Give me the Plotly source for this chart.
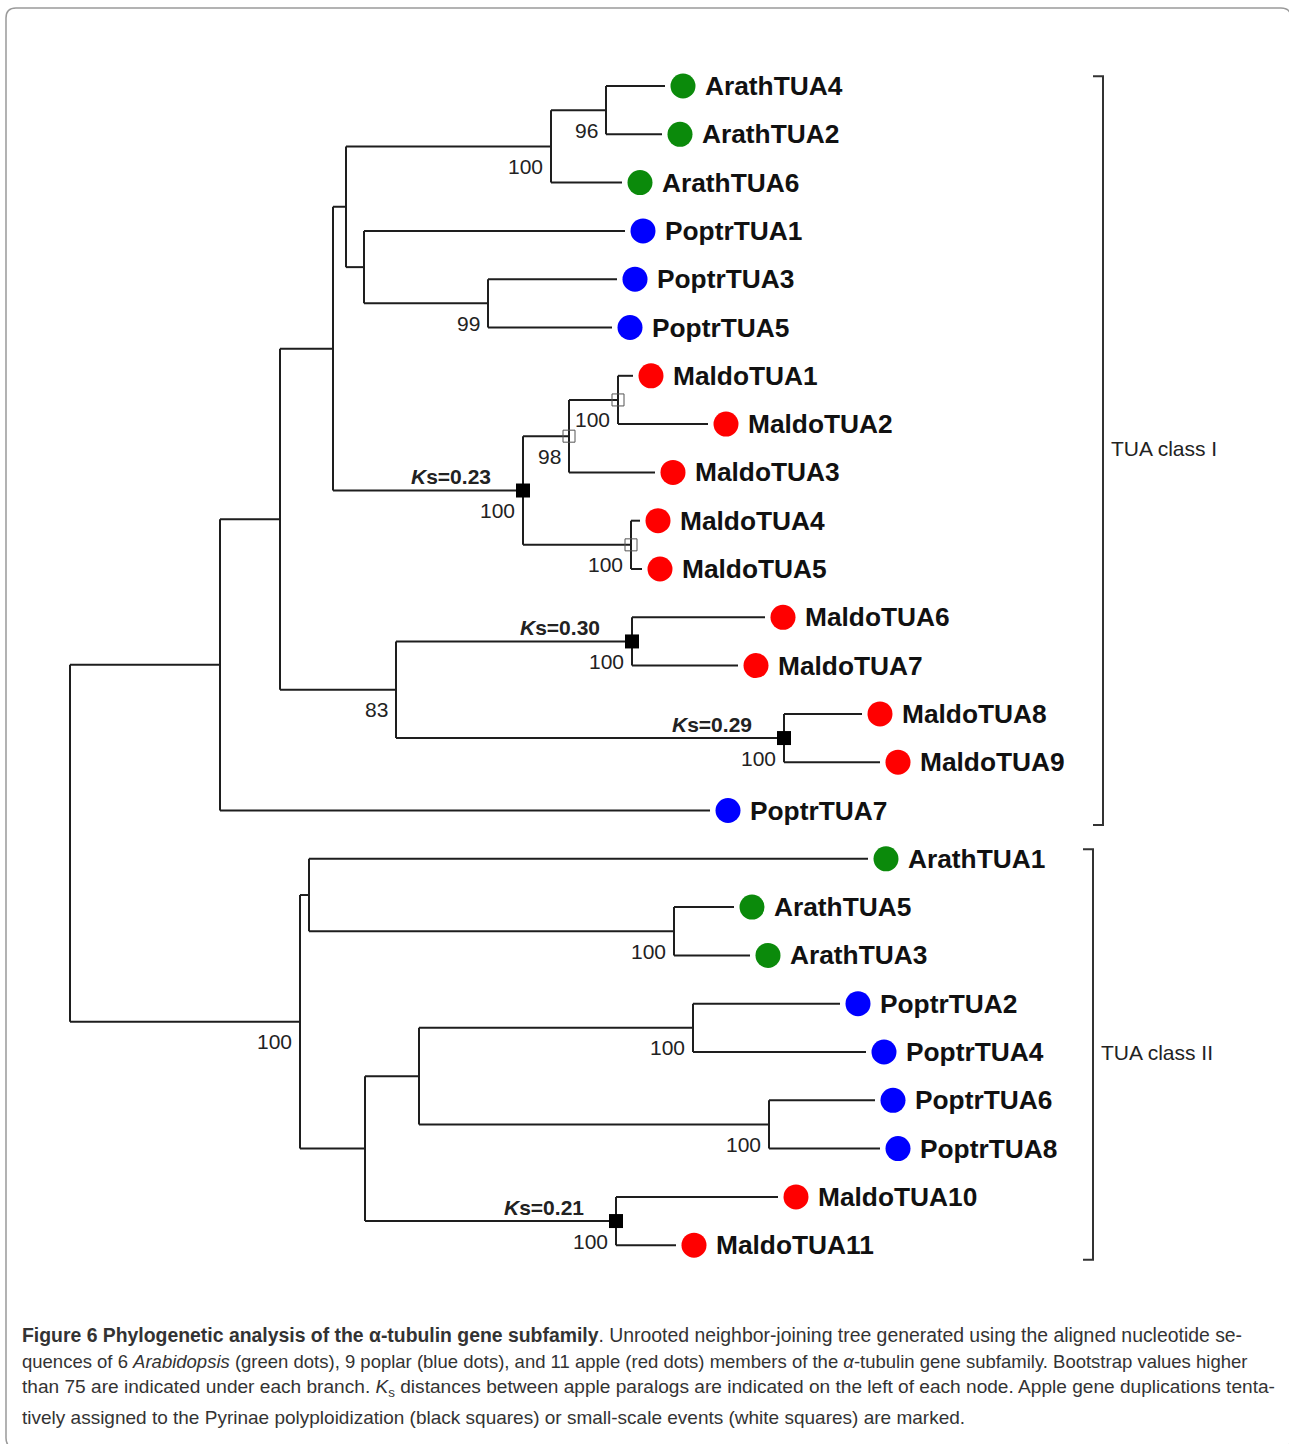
import plotly.graph_objects as go

# ---------------- data ----------------
leaf_names = ["ArathTUA4", "ArathTUA2", "ArathTUA6", "PoptrTUA1", "PoptrTUA3", "PoptrTUA5",
              "MaldoTUA1", "MaldoTUA2", "MaldoTUA3", "MaldoTUA4", "MaldoTUA5", "MaldoTUA6",
              "MaldoTUA7", "MaldoTUA8", "MaldoTUA9", "PoptrTUA7", "ArathTUA1", "ArathTUA5",
              "ArathTUA3", "PoptrTUA2", "PoptrTUA4", "PoptrTUA6", "PoptrTUA8", "MaldoTUA10",
              "MaldoTUA11"]
leaf_species = ["Arath", "Arath", "Arath", "Poptr", "Poptr", "Poptr",
                "Maldo", "Maldo", "Maldo", "Maldo", "Maldo", "Maldo",
                "Maldo", "Maldo", "Maldo", "Poptr", "Arath", "Arath",
                "Arath", "Poptr", "Poptr", "Poptr", "Poptr", "Maldo",
                "Maldo"]
# distance from root to each tip (tree units)
leaf_depth = [0.595, 0.592, 0.552, 0.555, 0.547, 0.542,
              0.563, 0.638, 0.585, 0.570, 0.572, 0.695,
              0.668, 0.792, 0.810, 0.640, 0.798, 0.664,
              0.680, 0.770, 0.796, 0.805, 0.810, 0.708,
              0.606]

# internal nodes (post-order)
node_names = ["nA42", "nA", "nP35", "nP", "nAP", "nM12", "nM123", "nM45", "nM15", "nAPM",
              "nM67", "nM89", "nM69", "nI2", "nI", "nA53", "nA153", "nP24", "nP68", "nP2468",
              "nM1011", "nPM", "nII", "root"]
node_children = [["ArathTUA4", "ArathTUA2"], ["nA42", "ArathTUA6"], ["PoptrTUA3", "PoptrTUA5"],
                 ["PoptrTUA1", "nP35"], ["nA", "nP"], ["MaldoTUA1", "MaldoTUA2"],
                 ["nM12", "MaldoTUA3"], ["MaldoTUA4", "MaldoTUA5"], ["nM123", "nM45"],
                 ["nAP", "nM15"], ["MaldoTUA6", "MaldoTUA7"], ["MaldoTUA8", "MaldoTUA9"],
                 ["nM67", "nM89"], ["nAPM", "nM69"], ["nI2", "PoptrTUA7"],
                 ["ArathTUA5", "ArathTUA3"], ["ArathTUA1", "nA53"], ["PoptrTUA2", "PoptrTUA4"],
                 ["PoptrTUA6", "PoptrTUA8"], ["nP24", "nP68"], ["MaldoTUA10", "MaldoTUA11"],
                 ["nP2468", "nM1011"], ["nA153", "nPM"], ["nI", "nII"]]
node_depth = [0.536, 0.481, 0.418, 0.294, 0.276, 0.548, 0.499, 0.561, 0.453, 0.263,
              0.562, 0.714, 0.326, 0.210, 0.150, 0.604, 0.239, 0.623, 0.699, 0.349,
              0.546, 0.295, 0.230, 0.000]
node_bootstrap = ["96", "100", "99", None, None, "100", "98", "100", "100", None,
                  "100", "100", "83", None, None, "100", None, "100", "100", None,
                  "100", None, "100", None]
node_event = [None, None, None, None, None, "white", "white", "white", "black", None,
              "black", "black", None, None, None, None, None, None, None, None,
              "black", None, None, None]
node_ks = [None, None, None, None, None, None, None, None, "0.23", None,
           "0.30", "0.29", None, None, None, None, None, None, None, None,
           "0.21", None, None, None]

class_labels = ["TUA class I", "TUA class II"]
class_first_leaf = ["ArathTUA4", "ArathTUA1"]
class_last_leaf = ["PoptrTUA7", "MaldoTUA11"]

species_colors = {"Arath": "#0b8a0b", "Poptr": "#0000ff", "Maldo": "#ff0000"}

caption_lines = [
    "<b>Figure 6 Phylogenetic analysis of the α-tubulin gene subfamily</b>. Unrooted neighbor-joining tree generated using the aligned nucleotide se-",
    "quences of 6 <i>Arabidopsis</i> (green dots), 9 poplar (blue dots), and 11 apple (red dots) members of the <i>α</i>-tubulin gene subfamily. Bootstrap values higher",
    "than 75 are indicated under each branch. <i>K</i><sub>s</sub> distances between apple paralogs are indicated on the left of each node. Apple gene duplications tenta-",
    "tively assigned to the Pyrinae polyploidization (black squares) or small-scale events (white squares) are marked.",
]
caption_sizes = [19.4, 18.5, 19.1, 19.0]

# ---------------- layout of tree ----------------
W, H = 1289, 1444
depth = {n: d for n, d in zip(leaf_names, leaf_depth)}
ypos = {n: float(i) for i, n in enumerate(leaf_names)}
for n, ch, d in zip(node_names, node_children, node_depth):
    depth[n] = d
    ypos[n] = (ypos[ch[0]] + ypos[ch[-1]]) / 2.0

lx, ly = [], []
for n, ch in zip(node_names, node_children):
    d = depth[n]
    lx += [d, d, None]
    ly += [ypos[ch[0]], ypos[ch[-1]], None]
    for c in ch:
        lx += [d, depth[c], None]
        ly += [ypos[c], ypos[c], None]

fig = go.Figure()
fig.add_trace(go.Scatter(x=lx, y=ly, mode="lines",
                         line=dict(color="#1e1e1e", width=2), hoverinfo="skip",
                         showlegend=False))

# leaf dots
dot_off = 0.018
fig.add_trace(go.Scatter(
    x=[d + dot_off for d in leaf_depth], y=[ypos[n] for n in leaf_names],
    mode="markers", marker=dict(size=25, color=[species_colors[s] for s in leaf_species]),
    text=leaf_names, hoverinfo="text", showlegend=False))

# duplication squares
bx = [depth[n] for n, e in zip(node_names, node_event) if e == "black"]
by = [ypos[n] for n, e in zip(node_names, node_event) if e == "black"]
wx = [depth[n] for n, e in zip(node_names, node_event) if e == "white"]
wy = [ypos[n] for n, e in zip(node_names, node_event) if e == "white"]
fig.add_trace(go.Scatter(x=bx, y=by, mode="markers",
                         marker=dict(symbol="square", size=14, color="black"),
                         hoverinfo="skip", showlegend=False))
fig.add_trace(go.Scatter(x=wx, y=wy, mode="markers",
                         marker=dict(symbol="square-open", size=12, color="#555555",
                                     line=dict(width=1)),
                         hoverinfo="skip", showlegend=False))

ann = []
label_font = dict(family="Liberation Sans, Arial, sans-serif", size=26.3, color="#111111")
for n, d in zip(leaf_names, leaf_depth):
    ann.append(dict(x=d, y=ypos[n], text="<b>%s</b>" % n, showarrow=False,
                    xanchor="left", yanchor="middle", xshift=38, font=label_font))

bs_font = dict(family="Liberation Sans, Arial, sans-serif", size=21, color="#222222")
for n, b in zip(node_names, node_bootstrap):
    if b:
        ann.append(dict(x=depth[n], y=ypos[n], text=b, showarrow=False,
                        xanchor="right", yanchor="middle", xshift=-6, yshift=-20,
                        font=bs_font))
for n, k in zip(node_names, node_ks):
    if k:
        ann.append(dict(x=depth[n], y=ypos[n], text="<b><i>K</i>s=%s</b>" % k,
                        showarrow=False, xanchor="right", yanchor="middle",
                        xshift=-30, yshift=14, font=bs_font))

# class brackets
bracket_x = [1.033, 1.023]
shapes = []
for lab, a, b, bxv in zip(class_labels, class_first_leaf, class_last_leaf, bracket_x):
    y0 = ypos[a] - 0.2
    y1 = ypos[b] + 0.3
    tick = 0.010
    fig.add_trace(go.Scatter(x=[bxv - tick, bxv, bxv, bxv - tick],
                             y=[y0, y0, y1, y1], mode="lines",
                             line=dict(color="#333333", width=2),
                             hoverinfo="skip", showlegend=False))
    ann.append(dict(x=bxv, y=(ypos[a] + ypos[b]) / 2, text=lab, showarrow=False,
                    xanchor="left", yanchor="middle", xshift=6,
                    font=dict(family="Liberation Sans, Arial, sans-serif", size=21,
                              color="#222222")))

# caption
cap_y = [1335, 1361, 1388, 1417]
for t, yy, fs in zip(caption_lines, cap_y, caption_sizes):
    ann.append(dict(x=20 / W, y=1 - yy / H, xref="paper", yref="paper", text=t,
                    showarrow=False, xanchor="left", yanchor="middle",
                    font=dict(family="Liberation Sans, Arial, sans-serif", size=fs,
                              color="#333333")))

# rounded frame
r = 10
x0p, y0p, x1p, y1p = 6, 8, 1291, 1448
def P(x, y):
    return "%.5f,%.5f" % (x / W, 1 - y / H)
path = ("M " + P(x0p + r, y0p) + " L " + P(x1p - r, y0p) + " Q " + P(x1p, y0p) + " " + P(x1p, y0p + r) +
        " L " + P(x1p, y1p - r) + " Q " + P(x1p, y1p) + " " + P(x1p - r, y1p) +
        " L " + P(x0p + r, y1p) + " Q " + P(x0p, y1p) + " " + P(x0p, y1p - r) +
        " L " + P(x0p, y0p + r) + " Q " + P(x0p, y0p) + " " + P(x0p + r, y0p) + " Z")
shapes.append(dict(type="path", xref="paper", yref="paper", path=path,
                   line=dict(color="#9a9a9a", width=1.5)))

y_unit = 48.3
y_top = 86.0
fig.update_layout(
    width=W, height=H, margin=dict(l=0, r=0, t=0, b=0),
    paper_bgcolor="white", plot_bgcolor="white",
    xaxis=dict(range=[-70 / 1000, (W - 70) / 1000], visible=False, fixedrange=True),
    yaxis=dict(range=[(H - y_top) / y_unit, -y_top / y_unit], visible=False, fixedrange=True),
    annotations=ann, shapes=shapes, showlegend=False,
)
fig.write_html("out.html", config={"displayModeBar": False},
               post_script="document.body.style.margin='0';document.body.style.overflow='hidden';")
